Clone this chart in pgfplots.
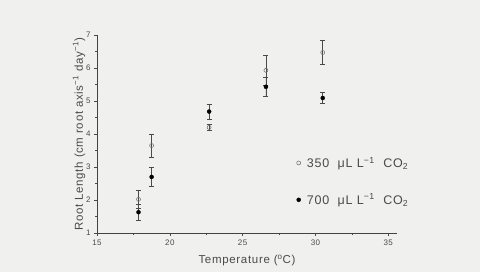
\documentclass[border=0pt]{standalone}
\usepackage{pgfplots}
\pgfplotsset{compat=1.18}
\usepackage{fontspec}
\setmainfont{Liberation Sans}
\newfontfamily\wide[LetterSpace=6]{Liberation Sans}
\definecolor{bg}{HTML}{F0F0EE}
\definecolor{ink}{HTML}{4A4A4A}
\begin{document}
\begin{tikzpicture}
\fill[bg] (0,0) rectangle (480pt,272pt);
\useasboundingbox (0,0) rectangle (480pt,272pt);
\begin{axis}[
  at={(97pt,39pt)}, anchor=south west,
  scale only axis, width=300pt, height=198pt,
  xmin=15, xmax=35.6, ymin=1, ymax=7,
  axis lines*=left,
  axis line style={ink!90!black, line width=0.7pt},
  xtick={15,20,25,30,35}, ytick={1,2,3,4,5,6,7},
  minor x tick num=1, minor y tick num=1,
  tick align=outside, major tick length=3pt, minor tick length=2pt,
  tick style={ink, line width=0.6pt},
  /pgf/number format/assume math mode=true,
  ticklabel style={font=\wide\fontsize{8}{9}\selectfont, text=ink},
  xlabel={Temperature (\textsuperscript{o}C)},
  ylabel={Root Length (cm root axis\textsuperscript{−1} day\textsuperscript{−1})},
  label style={font=\wide\fontsize{11.5}{13}\selectfont, text=ink},
  xlabel style={yshift=-3pt},
  ylabel style={yshift=-6pt},
  legend style={draw=none, fill=none, at={(0.655,0.405)}, anchor=north west,
    font=\wide\fontsize{12.5}{14}\selectfont, text=ink, row sep=21pt},
  legend cell align=left,
]
\addplot[only marks, mark=o, mark size=2pt, draw=gray!80!black, line width=0.5pt,
  error bars/.cd, y dir=both, y explicit,
  error bar style={ink, line width=0.6pt}, error mark options={rotate=90, mark size=2.5pt, ink, line width=0.6pt}]
  table[x=x, y=y, y error=e] {
x y e
17.85 2.02 0.28
18.75 3.65 0.35
22.7 4.20 0.08
26.6 5.93 0.45
30.5 6.47 0.36
};
\addlegendentry{\ 350 \ μL L\textsuperscript{−1} \ CO\textsubscript{2}}
\addplot[only marks, mark=*, mark size=2pt, draw=black, fill=black,
  error bars/.cd, y dir=both, y explicit,
  error bar style={ink, line width=0.6pt}, error mark options={rotate=90, mark size=2.5pt, ink, line width=0.6pt}]
  table[x=x, y=y, y error=e] {
x y e
17.85 1.63 0.25
18.75 2.70 0.30
22.7 4.68 0.23
26.6 5.43 0.30
30.5 5.09 0.17
};
\addlegendentry{\ 700 \ μL L\textsuperscript{−1} \ CO\textsubscript{2}}
\end{axis}
\end{tikzpicture}
\end{document}
